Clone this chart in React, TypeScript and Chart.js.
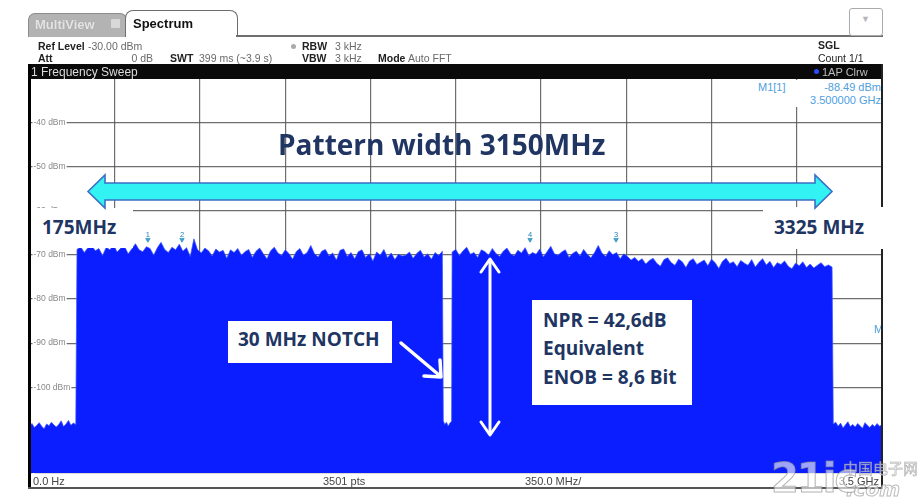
import React, { useEffect, useRef } from 'react';
import { Chart, registerables } from 'chart.js';

Chart.register(...registerables);

// ---- axes ----
const freqMinMHz = 0;
const freqMaxMHz = 3500;
const freqDivMHz = 350;
const refLevelDbm = -30;
const levelBottomDbm = -119.4;
const levelDivDb = 10;
const levelTickLabels = [-40, -50, -60, -70, -80, -90, -100];

// ---- trace 1 (Clear/Write) ----
const leftFloorStartMHz = 0;
const floorStepMHz = 10;
const leftFloorDbm = [
  -108.9, -108.2, -109.1, -108.6, -108.0, -108.8, -109.4, -108.3, -108.7, -107.9,
  -108.5, -109.0, -108.4, -107.6, -108.9, -108.3, -107.5, -108.6, -108.1, -108.4,
];

const lowerBandStartMHz = 195;
const bandStepMHz = 15;
const lowerBandDbm = [
  -68.8, -68.2, -69.5, -68.4, -67.9, -69.1, -68.6, -70.2, -68.3, -68.9,
  -67.8, -69.4, -68.5, -68.1, -69.8, -68.7, -67.5, -68.9, -69.3, -68.2,
  -68.6, -70.1, -68.4, -67.2, -68.8, -69.5, -68.3, -68.9, -67.6, -69.2,
  -68.4, -70.4, -66.4, -68.9, -69.6, -68.5, -69.1, -70.3, -68.7, -69.4,
  -69.0, -70.8, -68.9, -69.5, -68.6, -70.1, -69.3, -68.8, -70.6, -69.2,
  -68.5, -69.8, -70.9, -69.1, -68.3, -69.6, -70.2, -68.9, -69.7, -71.0,
  -69.3, -68.6, -70.1, -69.5, -67.9, -69.8, -70.5, -69.2, -68.8, -70.3,
  -69.6, -71.2, -69.0, -68.7, -70.4, -69.5, -70.9, -69.3, -68.9, -70.6,
  -69.8, -71.4, -69.4, -70.1, -68.8, -70.7, -69.6, -71.1, -69.9, -70.3,
  -70.1, -69.4, -70.8, -69.7, -69.0, -70.5, -69.8, -71.0, -69.5, -70.2,
  -69.2,
];

const notchFreqMHz = [1699, 1705, 1712, 1719, 1726, 1733];
const notchDbm = [-107.6, -108.4, -107.9, -108.8, -108.1, -107.7];

const upperBandStartMHz = 1735;
const upperBandDbm = [
  -69.4, -68.8, -70.2, -69.1, -68.3, -69.9, -69.5, -70.6, -68.9, -69.3,
  -70.1, -68.6, -69.7, -70.4, -69.2, -68.5, -69.8, -70.3, -69.0, -69.6,
  -68.4, -70.2, -69.5, -69.9, -68.7, -70.5, -69.3, -68.1, -69.8, -70.1,
  -69.4, -68.9, -70.6, -69.7, -69.2, -70.3, -68.8, -69.9, -70.7, -69.5,
  -67.9, -69.6, -70.4, -69.1, -70.0, -69.5, -70.9, -69.8, -70.4, -71.2,
  -70.6, -71.5, -70.9, -72.1, -71.3, -70.8, -71.9, -72.6, -71.1, -70.7,
  -71.8, -72.4, -71.0, -71.6, -72.9, -71.4, -70.9, -72.2, -71.7, -71.2,
  -72.5, -71.0, -71.8, -73.1, -71.5, -70.8, -72.0, -71.6, -72.7, -71.3,
  -71.9, -72.4, -71.1, -72.8, -71.7, -70.9, -72.3, -71.5, -72.9, -71.8,
  -72.2, -71.4, -72.6, -73.2, -71.9, -72.5, -71.6, -72.9, -72.1, -73.0,
  -72.4, -71.8, -72.7, -72.3, -72.8,
];

const rightFloorStartMHz = 3300;
const rightFloorDbm = [
  -108.3, -107.9, -108.8, -108.1, -109.2, -108.5, -107.8, -108.9, -108.4, -109.0,
  -108.2, -108.7, -109.3, -108.0, -108.6, -109.1, -108.4, -108.9, -108.2, -108.8,
  -108.5,
];

// ---- markers ----
const markerNames = ['1', '2', '3', '4'];
const markerFreqMHz = [486, 626, 2408, 2055];
const markerDbm = [-66.6, -66.6, -66.6, -66.6];

const UI = '"Liberation Sans", Arial, sans-serif';
const ANNO = '"Open Sans", Lato, sans-serif';
const NAVY = '#203562';
const TRACE = '#0a1eff';
const MARKER_BLUE = 'rgb(78,160,222)';

function buildTrace() {
  const pts: { x: number; y: number }[] = [];
  leftFloorDbm.forEach((v, i) => pts.push({ x: leftFloorStartMHz + i * floorStepMHz, y: v }));
  lowerBandDbm.forEach((v, i) => pts.push({ x: lowerBandStartMHz + i * bandStepMHz, y: v }));
  notchFreqMHz.forEach((f, i) => pts.push({ x: f, y: notchDbm[i] }));
  upperBandDbm.forEach((v, i) => pts.push({ x: upperBandStartMHz + i * bandStepMHz, y: v }));
  rightFloorDbm.forEach((v, i) => pts.push({ x: rightFloorStartMHz + i * floorStepMHz, y: v }));
  return pts;
}

const markerLabelPlugin = {
  id: 'markerLabels',
  afterDatasetsDraw(chart: any) {
    const { ctx, scales } = chart;
    ctx.save();
    ctx.font = `7.5px ${UI}`;
    ctx.fillStyle = '#2a7fb5';
    ctx.textAlign = 'center';
    ctx.textBaseline = 'alphabetic';
    markerNames.forEach((n, i) => {
      const x = scales.x.getPixelForValue(markerFreqMHz[i]);
      const y = scales.y.getPixelForValue(markerDbm[i]);
      ctx.fillText(n, x, y - 3);
    });
    ctx.restore();
  },
};

const T = ({ x, y, r, size = 10.5, bold = false, color = '#222', font = UI, children, style }: any) => (
  <div
    style={{
      position: 'absolute',
      left: r === undefined ? x : undefined,
      right: r !== undefined ? 921 - r : undefined,
      top: y,
      fontSize: size,
      fontWeight: bold ? 700 : 400,
      color,
      fontFamily: font,
      lineHeight: 1,
      whiteSpace: 'nowrap',
      ...style,
    }}
  >
    {children}
  </div>
);

const Box = ({ x, y, w, h, children, style }: any) => (
  <div style={{ position: 'absolute', left: x, top: y, width: w, height: h, background: '#fff', ...style }}>{children}</div>
);

export default function App() {
  const ref = useRef<HTMLCanvasElement | null>(null);

  useEffect(() => {
    if (!ref.current) return;
    const markers = markerFreqMHz.map((f, i) => ({ x: f, y: markerDbm[i] }));
    const chart = new Chart(ref.current, {
      type: 'line',
      data: {
        datasets: [
          {
            label: 'Markers',
            type: 'scatter',
            data: markers,
            pointStyle: 'triangle',
            rotation: 180,
            pointRadius: 2.6,
            backgroundColor: '#3aa8d8',
            borderColor: '#1f7fb0',
            borderWidth: 0.6,
          } as any,
          {
            label: 'Trace 1',
            data: buildTrace(),
            borderColor: 'rgba(60,85,255,0.9)',
            backgroundColor: TRACE,
            borderWidth: 0.8,
            pointRadius: 0,
            fill: 'start',
            tension: 0,
          },
        ],
      },
      options: {
        animation: false,
        responsive: false,
        devicePixelRatio: 1,
        layout: { padding: { left: 29.5, right: 39, top: 78, bottom: 27 } },
        plugins: { legend: { display: false }, tooltip: { enabled: false } },
        scales: {
          x: {
            type: 'linear',
            min: freqMinMHz,
            max: freqMaxMHz,
            ticks: { stepSize: freqDivMHz, display: false },
            grid: { color: 'rgba(85,85,85,0.85)', lineWidth: 1.2, drawTicks: false },
            border: { display: false },
            afterFit: (s: any) => { s.height = 0; },
          },
          y: {
            type: 'linear',
            min: levelBottomDbm,
            max: refLevelDbm,
            ticks: {
              stepSize: levelDivDb,
              mirror: true,
              padding: 4,
              color: '#888888',
              font: { family: UI, size: 8.5 },
              showLabelBackdrop: true,
              backdropColor: '#ffffff',
              backdropPadding: 1,
              callback: (v: any) => {
                const r = Math.round(Number(v));
                return Math.abs(r - Number(v)) < 1e-6 && levelTickLabels.includes(r) ? `${r} dBm` : '';
              },
            } as any,
            grid: { color: 'rgba(85,85,85,0.85)', lineWidth: 1.2, drawTicks: false },
            border: { display: false },
            afterFit: (s: any) => { s.width = 0; },
          },
        },
      },
      plugins: [markerLabelPlugin],
    });
    return () => chart.destroy();
  }, []);

  return (
    <div style={{ position: 'fixed', left: 0, top: 0, width: 921, height: 500, background: '#fff', overflow: 'hidden' }}>
      <canvas ref={ref} width={921} height={500} style={{ position: 'absolute', left: 0, top: 0, width: 921, height: 500 }} />

      {/* tabs */}
      <div style={{ position: 'absolute', left: 28, top: 13, width: 97, height: 23, background: '#b3b3b3', border: '1px solid #8c8c8c', borderBottom: 'none', borderRadius: '7px 7px 0 0' }} />
      <T x={35} y={18} size={13} bold color="#e4e4e4" style={{ textShadow: '0 0 1px #999' }}>MultiView</T>
      <div style={{ position: 'absolute', left: 111, top: 19, width: 9, height: 9, background: '#d8d8d8', borderRadius: 1 }} />
      <div style={{ position: 'absolute', left: 125, top: 10, width: 111, height: 26, background: '#fff', border: '1px solid #6e6e6e', borderBottom: 'none', borderRadius: '8px 8px 0 0' }} />
      <T x={133} y={17} size={13} bold color="#111">Spectrum</T>
      <div style={{ position: 'absolute', left: 236, top: 35, width: 647, height: 1.5, background: '#6e6e6e' }} />
      <div style={{ position: 'absolute', left: 849, top: 8, width: 32, height: 26, background: '#fff', border: '1px solid #aaa', borderRadius: 3 }} />
      <T x={861} y={15} size={9} color="#b5b5b5">▼</T>

      {/* settings rows */}
      <T x={38} y={41} bold>Ref Level</T>
      <T x={88} y={41} color="#6a6a6a">-30.00 dBm</T>
      <T x={38} y={53} bold>Att</T>
      <T r={153} y={53} color="#6a6a6a">0 dB</T>
      <T x={170} y={53} bold>SWT</T>
      <T x={199} y={53} color="#6a6a6a">399 ms (~3.9 s)</T>
      <div style={{ position: 'absolute', left: 291, top: 44, width: 5, height: 5, borderRadius: 3, background: '#aaa' }} />
      <T x={302} y={41} bold>RBW</T>
      <T x={335} y={41} color="#6a6a6a">3 kHz</T>
      <T x={302} y={53} bold>VBW</T>
      <T x={335} y={53} color="#6a6a6a">3 kHz</T>
      <T x={378} y={53} bold>Mode</T>
      <T x={408} y={53} color="#6a6a6a">Auto FFT</T>
      <T x={818} y={40} bold>SGL</T>
      <T x={818} y={53}>Count 1/1</T>

      {/* black title bar */}
      <div style={{ position: 'absolute', left: 28, top: 64, width: 854, height: 15, background: '#0a0a0a' }} />
      <T x={31} y={66} size={12} color="#dcdcdc">1 Frequency Sweep</T>
      <div style={{ position: 'absolute', left: 814, top: 69, width: 5, height: 5, borderRadius: 3, background: '#2b4cff' }} />
      <T x={822} y={67} size={11} color="#bdbdbd">1AP Clrw</T>

      {/* frame */}
      <div style={{ position: 'absolute', left: 27.5, top: 64, width: 3, height: 424, background: '#000' }} />
      <div style={{ position: 'absolute', left: 881, top: 64, width: 1.5, height: 424, background: '#222' }} />
      <div style={{ position: 'absolute', left: 28, top: 486.5, width: 855, height: 2, background: '#555' }} />

      {/* bottom labels */}
      <T x={33} y={476} size={11} color="#444">0.0 Hz</T>
      <T x={323} y={476} size={11} color="#444">3501 pts</T>
      <T x={525} y={476} size={11} color="#444">350.0 MHz/</T>
      <T r={879} y={476} size={11} color="#444">3.5 GHz</T>

      {/* marker info */}
      <Box x={755} y={79.5} w={126} h={27} />
      <T x={758} y={82} size={11} color={MARKER_BLUE}>M1[1]</T>
      <T r={881} y={82} size={11} color={MARKER_BLUE}>-88.49 dBm</T>
      <T r={881} y={94.5} size={11} color={MARKER_BLUE}>3.500000 GHz</T>
      <div style={{ position: 'absolute', left: 874, top: 323, width: 7, height: 14, overflow: 'hidden' }}>
        <T x={0} y={1} size={11} color={MARKER_BLUE}>M1</T>
      </div>

      {/* annotation boxes */}
      <Box x={31} y={208} w={102} h={40} />
      <Box x={763} y={207} w={126} h={42} />
      <Box x={228} y={321} w={164} h={42} />
      <Box x={532} y={300} w={160} h={105} />

      <T x={278} y={130} size={28} bold color={NAVY} font={ANNO}>Pattern width 3150MHz</T>
      <T x={42} y={218} size={19} bold color={NAVY} font={ANNO}>175MHz</T>
      <T x={774} y={218} size={19} bold color={NAVY} font={ANNO}>3325 MHz</T>
      <T x={238} y={330} size={19} bold color={NAVY} font={ANNO}>30 MHz NOTCH</T>
      <div style={{ position: 'absolute', left: 543, top: 305.5, fontFamily: ANNO, fontWeight: 700, fontSize: 19, lineHeight: '28.5px', color: NAVY, whiteSpace: 'nowrap' }}>
        <div>NPR = 42,6dB</div>
        <div>Equivalent</div>
        <div>ENOB = 8,6 Bit</div>
      </div>

      <svg width={921} height={500} style={{ position: 'absolute', left: 0, top: 0, pointerEvents: 'none' }}>
        <polygon
          points="88,191.5 105,175 105,183 815,183 815,175 832,191.5 815,208 815,200 105,200 105,208"
          fill="#33f2f4"
          stroke="#3a6fc4"
          strokeWidth={1.6}
          strokeLinejoin="miter"
        />
        <line x1={401} y1={343} x2={439} y2={375} stroke="#fff" strokeWidth={3.5} strokeLinecap="round" />
        <polyline points="424,376 441,377 440,360" fill="none" stroke="#fff" strokeWidth={3.5} strokeLinecap="round" strokeLinejoin="round" />
        <line x1={490} y1={260} x2={490} y2={434} stroke="#fff" strokeWidth={3} />
        <polyline points="481,272 490,259 499,272" fill="none" stroke="#fff" strokeWidth={3} strokeLinecap="round" strokeLinejoin="round" />
        <polyline points="481,422 490,435 499,422" fill="none" stroke="#fff" strokeWidth={3} strokeLinecap="round" strokeLinejoin="round" />
      </svg>

      {/* watermark */}
      <T x={771} y={458} size={40} bold font='"DejaVu Sans", sans-serif' color="rgba(255,255,255,0.6)" style={{ WebkitTextStroke: '1px rgba(140,140,140,0.65)', letterSpacing: -2 }}>21ic</T>
      <T x={843} y={460} size={15} font='"Noto Sans CJK SC", sans-serif' color="rgba(255,255,255,0.6)" style={{ WebkitTextStroke: '0.6px rgba(140,140,140,0.7)' }}>中国电子网</T>
      <T x={846} y={479} size={20} bold font='"DejaVu Sans", sans-serif' color="rgba(255,255,255,0.6)" style={{ WebkitTextStroke: '1px rgba(140,140,140,0.6)', fontStyle: 'italic' }}>.com</T>
    </div>
  );
}
